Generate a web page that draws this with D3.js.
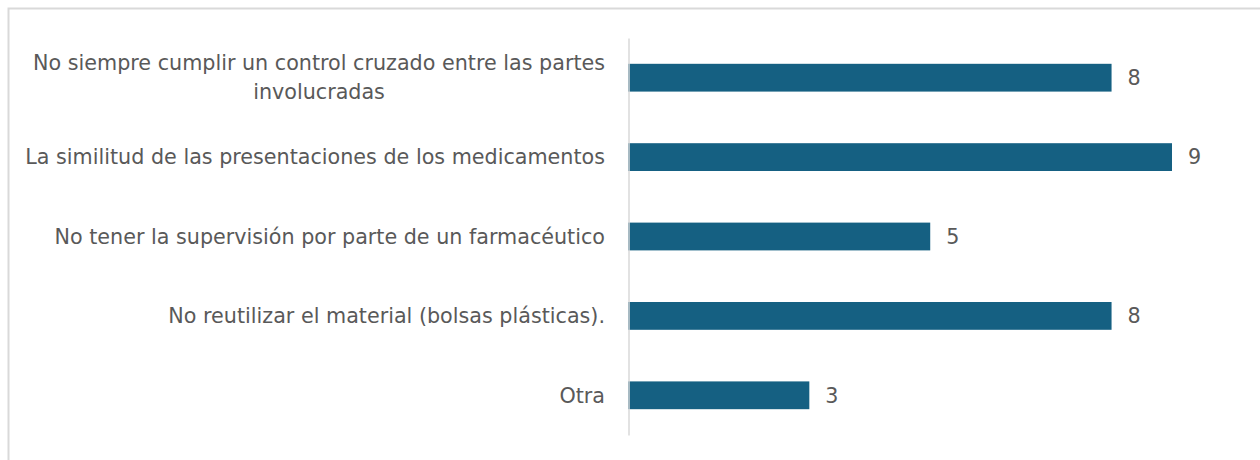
<!DOCTYPE html>
<html>
<head>
<meta charset="utf-8">
<script src="https://cdn.jsdelivr.net/npm/d3@7"></script>
<style>
  body { margin: 0; background: #fff; }
  svg { display: block; }
  .lbl { font-family: "DejaVu Sans", sans-serif; font-size: 20.7px; fill: #595959; }
</style>
</head>
<body>
<svg id="chart"></svg>
<script>
const categories = [
    ['No siempre cumplir un control cruzado entre las partes', 'involucradas'],
    ['La similitud de las presentaciones de los medicamentos'],
    ['No tener la supervisión por parte de un farmacéutico'],
    ['No reutilizar el material (bolsas plásticas).'],
    ['Otra']
];
const values = [8, 9, 5, 8, 3];

const width = 1260;
const height = 460;
const margin = { top: 38, right: 88, bottom: 25, left: 628 };

const svg = d3.select('#chart')
    .attr('width', width)
    .attr('height', height);

// chart frame (only top and left edges fall inside the picture)
svg.append('rect')
    .attr('x', 8.5)
    .attr('y', 8.5)
    .attr('width', width + 10)
    .attr('height', height + 10)
    .attr('fill', 'none')
    .attr('stroke', '#d9d9d9')
    .attr('stroke-width', 2);

const xScale = d3.scaleLinear()
    .domain([0, 9])
    .range([margin.left, 1172]);

const yScale = d3.scaleBand()
    .domain(d3.range(categories.length))
    .range([margin.top, height - margin.bottom])
    .paddingInner(0.65)
    .paddingOuter(0.325);

svg.selectAll('.bar')
    .data(values)
    .enter()
    .append('rect')
    .attr('class', 'bar')
    .attr('x', xScale(0))
    .attr('y', (d, i) => yScale(i))
    .attr('width', d => xScale(d) - xScale(0))
    .attr('height', yScale.bandwidth())
    .attr('fill', '#156082');

// vertical axis line
const yAxis = d3.axisLeft(yScale).tickSize(0).tickFormat('');
const axisG = svg.append('g')
    .attr('transform', `translate(${xScale(0) + 0.5}, 0)`)
    .call(yAxis);
axisG.select('.domain').attr('stroke', '#d9d9d9').attr('stroke-width', 1.5);

// category labels
categories.forEach((lines, i) => {
    const cy = yScale(i) + yScale.bandwidth() / 2;
    const lineH = 29;
    const t = svg.append('text')
        .attr('class', 'lbl')
        .attr('text-anchor', 'middle');
    lines.forEach((line, j) => {
        t.append('tspan')
            .attr('x', 0)
            .attr('y', cy + (j - (lines.length - 1) / 2) * lineH)
            .attr('dy', '0.35em')
            .text(line);
    });
    // right-align the block, centre lines inside it
    const w = t.node().getBBox().width;
    t.selectAll('tspan').attr('x', 605 - w / 2);
});

// value labels
svg.selectAll('.val')
    .data(values)
    .enter()
    .append('text')
    .attr('class', 'lbl')
    .attr('x', d => xScale(d) + 16)
    .attr('y', (d, i) => yScale(i) + yScale.bandwidth() / 2)
    .attr('dy', '0.35em')
    .text(d => d);
</script>
</body>
</html>
